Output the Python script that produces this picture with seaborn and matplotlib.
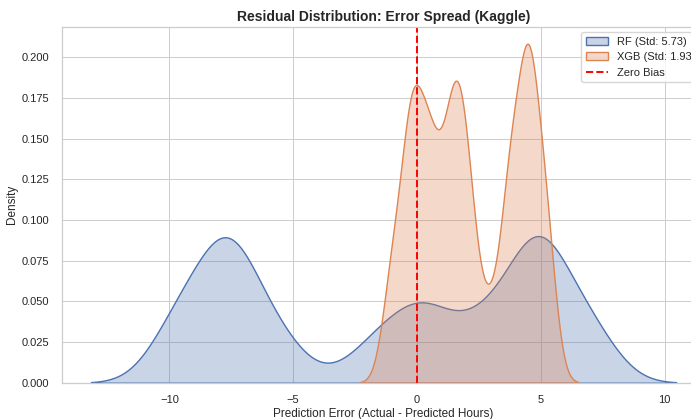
import numpy as np
import matplotlib
matplotlib.use("Agg")
import matplotlib.pyplot as plt
import seaborn as sns

# Residual values (hours) and how many test rows show each residual, per model
rf_residuals = [-9.6, -8.1, -7.6, -7.1, -6.6, -6.1, -5.6, -5.1, -3.1, -2.6, -2.1,
                -1.6, -1.1, -0.6, -0.1, 0.4, 0.9, 1.4, 1.9, 2.4, 2.9, 3.4, 3.9,
                4.4, 4.9, 5.4, 6.9]
rf_counts = [102, 31, 184, 8, 2, 16, 53, 3, 1, 3, 14,
             32, 17, 10, 26, 67, 19, 2, 1, 20, 69, 6, 1,
             4, 217, 5, 90]

xgb_residuals = [-1.1, -0.9, -0.7, -0.5, -0.3, -0.1, 0.1, 0.3, 0.5, 0.7, 0.9, 1.1,
                 1.3, 1.5, 1.7, 1.9, 2.1, 2.3, 2.5, 2.7, 2.9, 3.1, 3.3, 3.5,
                 3.7, 3.9, 4.1, 4.3, 4.5, 4.7, 4.9, 5.1, 5.3]
xgb_counts = [31, 30, 5, 11, 75, 51, 16, 29, 57, 28, 16, 23,
              40, 50, 48, 32, 38, 22, 2, 2, 20, 14, 1, 3,
              66, 43, 6, 17, 132, 18, 2, 50, 40]

rf_std_label = "5.73"
xgb_std_label = "1.93"
rf_bandwidth = 1.19
xgb_bandwidth = 0.40

sns.set_theme(style="whitegrid")
plt.rcParams["font.family"] = ["Liberation Sans", "DejaVu Sans"]

rf_sample = np.repeat(rf_residuals, rf_counts)
xgb_sample = np.repeat(xgb_residuals, xgb_counts)

fig = plt.figure(figsize=(6.91, 4.19), dpi=100)
ax = fig.add_axes([61.7 / 691, 36.3 / 419, 643.7 / 691, 356.0 / 419])

sns.kdeplot(x=rf_sample, bw_method=rf_bandwidth / rf_sample.std(ddof=1),
            fill=True, alpha=0.3, color="#4C72B0", linewidth=1.0,
            label=f"RF (Std: {rf_std_label})", ax=ax)
sns.kdeplot(x=xgb_sample, bw_method=xgb_bandwidth / xgb_sample.std(ddof=1),
            fill=True, alpha=0.3, color="#DD8452", linewidth=1.0,
            label=f"XGB (Std: {xgb_std_label})", ax=ax)
ax.axvline(0, color="red", linestyle="--", linewidth=1.4, label="Zero Bias")

ax.set_title("Residual Distribution: Error Spread (Kaggle)", fontsize=10,
             fontweight="bold", pad=4, color="#262626")
ax.set_xlabel("Prediction Error (Actual - Predicted Hours)", fontsize=8.5, labelpad=2)
ax.set_ylabel("Density", fontsize=8.5, labelpad=2.5)
ax.tick_params(axis="both", labelsize=8, pad=3)
for s in ax.spines.values():
    s.set_linewidth(0.9)
ax.grid(linewidth=0.7)
ax.legend(loc="upper right", fontsize=8, framealpha=0.8)

fig.savefig("out.png", dpi=100)
